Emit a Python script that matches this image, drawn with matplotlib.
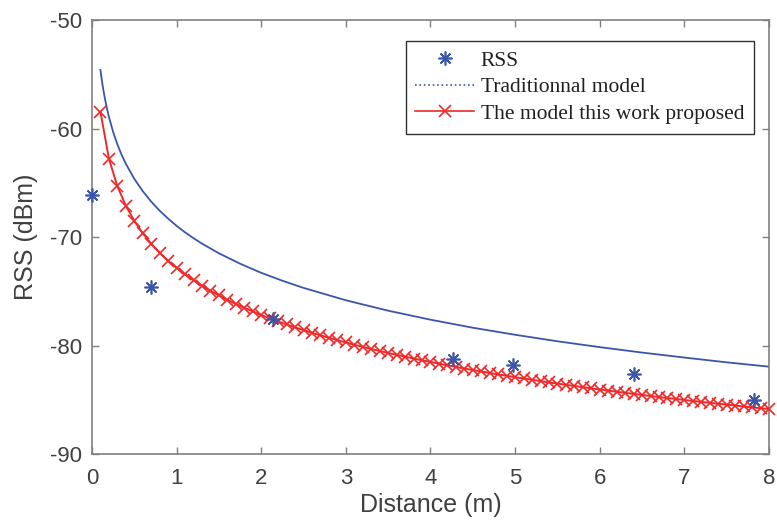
import numpy as np
import matplotlib.pyplot as plt
from matplotlib.lines import Line2D

plt.rcParams['axes.unicode_minus'] = False

# measured RSS points
rss_dist = [0.0, 0.70, 2.14, 4.27, 4.97, 6.40, 7.82]
rss_val = [-66.1, -74.6, -77.6, -81.2, -81.8, -82.6, -85.0]

# traditional model curve
trad_dist = [0.1, 0.11, 0.12, 0.13, 0.14, 0.15, 0.17, 0.2, 0.25, 0.3, 0.35, 0.4,
             0.5, 0.6, 0.7, 0.8, 0.9, 1.0, 1.1, 1.2, 1.3, 1.5, 1.75, 2.0, 2.25,
             2.5, 3.0, 3.5, 4.0, 4.5, 5.0, 5.5, 6.0, 6.5, 7.0, 7.5, 8.0]
trad_val = [-54.60, -55.20, -55.74, -56.24, -56.70, -57.13, -57.91, -58.93,
            -60.32, -61.46, -62.42, -63.25, -64.64, -65.78, -66.74, -67.58,
            -68.31, -68.97, -69.57, -70.11, -70.61, -71.50, -72.46, -73.30,
            -74.03, -74.69, -75.83, -76.79, -77.62, -78.36, -79.01, -79.61,
            -80.15, -80.65, -81.11, -81.55, -81.95]

# proposed model, one marker every 0.1 m
prop_dist = [round(0.1 * i, 1) for i in range(1, 81)]
prop_val = [-58.45, -62.79, -65.32, -67.12, -68.52, -69.66, -70.62, -71.45, -72.19, -72.85,
            -73.45, -73.99, -74.49, -74.95, -75.39, -75.79, -76.17, -76.53, -76.86, -77.19,
            -77.49, -77.78, -78.06, -78.33, -78.58, -78.83, -79.06, -79.29, -79.51, -79.72,
            -79.93, -80.12, -80.32, -80.50, -80.69, -80.86, -81.03, -81.20, -81.36, -81.52,
            -81.67, -81.83, -81.97, -82.12, -82.26, -82.39, -82.53, -82.66, -82.79, -82.92,
            -83.04, -83.16, -83.28, -83.40, -83.51, -83.62, -83.73, -83.84, -83.95, -84.06,
            -84.16, -84.26, -84.36, -84.46, -84.56, -84.65, -84.75, -84.84, -84.93, -85.02,
            -85.11, -85.20, -85.28, -85.37, -85.45, -85.53, -85.62, -85.70, -85.78, -85.85]

blue = '#3a56aa'
red = '#f02828'
grey = '#404040'

fig = plt.figure(figsize=(7.77, 5.27), dpi=100)
ax = fig.add_axes([0.1184, 0.1385, 0.8713, 0.8235])

ax.plot(trad_dist, trad_val, color=blue, linewidth=1.3, zorder=2)
ax.plot(prop_dist, prop_val, color=red, linewidth=1.4, marker='x',
        markersize=8, markeredgewidth=1.2, zorder=3, clip_on=False)
ax.plot(rss_dist, rss_val, linestyle='none', marker=(8, 2, 0), markersize=10,
        markeredgewidth=1.2, color=blue, zorder=4, clip_on=False)

ax.set_xlim(0, 8)
ax.set_ylim(-90, -50)
ax.set_xticks(range(0, 9))
ax.set_yticks([-90, -80, -70, -60, -50])

for s in ax.spines.values():
    s.set_color('#808080')
    s.set_linewidth(1.2)
ax.tick_params(direction='in', top=True, right=True, length=5, width=1.0,
               color='#808080', labelsize=16, labelcolor=grey)
ax.tick_params(axis='x', pad=10)
ax.tick_params(axis='y', pad=7)
for lab in ax.get_xticklabels() + ax.get_yticklabels():
    lab.set_family('Liberation Sans')

ax.set_xlabel('Distance (m)', fontsize=18, color=grey, family='Liberation Sans', labelpad=3)
ax.set_ylabel('RSS (dBm)', fontsize=18, color=grey, family='Liberation Sans', labelpad=9)

handles = [
    Line2D([], [], linestyle='none', marker=(8, 2, 0), markersize=10,
           markeredgewidth=1.2, color=blue),
    Line2D([], [], linestyle=':', linewidth=1.2, color=blue),
    Line2D([], [], color=red, linewidth=1.2, marker='x', markersize=8, markeredgewidth=1.2),
]
labels = ['RSS', 'Traditionnal model', 'The model this work proposed']
leg = ax.legend(handles, labels, loc='upper right', bbox_to_anchor=(0.978, 0.9516),
                prop={'family': 'Liberation Serif', 'size': 15.5}, fancybox=False,
                edgecolor='#303030', framealpha=1, borderpad=0.45, labelspacing=0.3,
                handlelength=2.75, handletextpad=0.3, borderaxespad=0)
leg.get_frame().set_linewidth(1.0)
for t in leg.get_texts():
    t.set_color('#202020')

fig.savefig('out.png', dpi=100)
